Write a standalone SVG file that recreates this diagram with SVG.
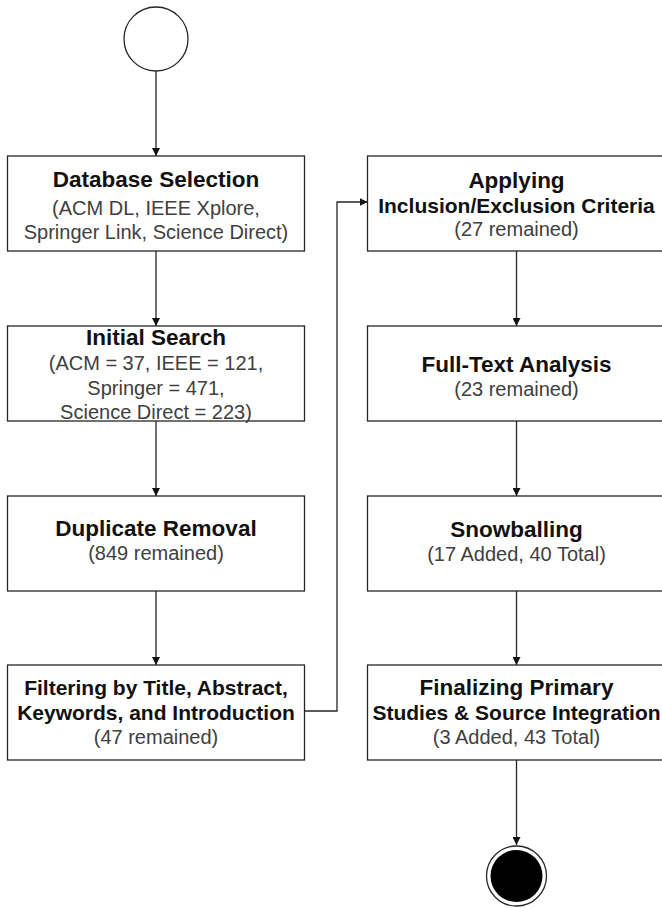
<svg xmlns="http://www.w3.org/2000/svg" width="662" height="909" viewBox="0 0 662 909">
<style>
.box{fill:#fff;stroke:#262626;stroke-width:1.3}
.t{font-family:"Liberation Sans",Arial,sans-serif;font-weight:bold;font-size:22.5px;fill:#111;text-anchor:middle}
.tl{font-size:21px}
.s{font-family:"Liberation Sans",Arial,sans-serif;font-size:20px;fill:#404040;text-anchor:middle}
.c{fill:none;stroke:#262626;stroke-width:1.3}
</style>
<defs>
<marker id="ah" viewBox="0 0 10 10" refX="10" refY="5" markerWidth="8" markerHeight="8" markerUnits="userSpaceOnUse" orient="auto">
<path d="M0,0 L10,5 L0,10 Z" fill="#111"/>
</marker>
</defs>
<rect width="662" height="909" fill="#fff"/>
<g id="connectors">
<path class="c" d="M156,71 V156" marker-end="url(#ah)"/>
<path class="c" d="M156,251 V326" marker-end="url(#ah)"/>
<path class="c" d="M156,421 V496" marker-end="url(#ah)"/>
<path class="c" d="M156,591 V665" marker-end="url(#ah)"/>
<path class="c" d="M304.5,711 H337 V202 H367.5" marker-end="url(#ah)"/>
<path class="c" d="M516.5,251 V326" marker-end="url(#ah)"/>
<path class="c" d="M516.5,421 V496" marker-end="url(#ah)"/>
<path class="c" d="M516.5,591 V665" marker-end="url(#ah)"/>
<path class="c" d="M516.5,760 V845" marker-end="url(#ah)"/>
</g>
<g id="start">
<circle cx="156" cy="39" r="32" fill="#fff" stroke="#262626" stroke-width="1.3"/>
</g>
<g id="database-selection">
<rect class="box" x="7.5" y="156" width="297" height="95"/>
<text class="t" x="156" y="187">Database Selection</text>
<text class="s" x="156" y="215">(ACM DL, IEEE Xplore,</text>
<text class="s" x="156" y="239">Springer Link, Science Direct)</text>
</g>
<g id="initial-search">
<rect class="box" x="7.5" y="326" width="297" height="95"/>
<text class="t" x="156" y="345">Initial Search</text>
<text class="s" x="156" y="370">(ACM = 37, IEEE = 121,</text>
<text class="s" x="156" y="395">Springer = 471,</text>
<text class="s" x="156" y="419">Science Direct = 223)</text>
</g>
<g id="duplicate-removal">
<rect class="box" x="7.5" y="496" width="297" height="95"/>
<text class="t" x="156" y="536">Duplicate Removal</text>
<text class="s" x="156" y="560">(849 remained)</text>
</g>
<g id="filtering">
<rect class="box" x="7.5" y="665" width="297" height="95"/>
<text class="t tl" x="156" y="695">Filtering by Title, Abstract,</text>
<text class="t tl" x="156" y="720">Keywords, and Introduction</text>
<text class="s" x="156" y="744">(47 remained)</text>
</g>
<g id="inclusion-exclusion">
<rect class="box" x="367.5" y="156" width="298" height="95"/>
<text class="t" x="516.5" y="188">Applying</text>
<text class="t tl" x="516.5" y="213">Inclusion/Exclusion Criteria</text>
<text class="s" x="516.5" y="236">(27 remained)</text>
</g>
<g id="full-text">
<rect class="box" x="367.5" y="326" width="298" height="95"/>
<text class="t" x="516.5" y="372">Full-Text Analysis</text>
<text class="s" x="516.5" y="396">(23 remained)</text>
</g>
<g id="snowballing">
<rect class="box" x="367.5" y="496" width="298" height="95"/>
<text class="t" x="516.5" y="537">Snowballing</text>
<text class="s" x="516.5" y="561">(17 Added, 40 Total)</text>
</g>
<g id="finalizing">
<rect class="box" x="367.5" y="665" width="298" height="95"/>
<text class="t" x="516.5" y="695">Finalizing Primary</text>
<text class="t tl" x="516.5" y="720">Studies &amp; Source Integration</text>
<text class="s" x="516.5" y="744">(3 Added, 43 Total)</text>
</g>
<g id="end">
<circle cx="516.5" cy="876" r="30" fill="#fff" stroke="#262626" stroke-width="1.3"/>
<circle cx="516.5" cy="876" r="26" fill="#000"/>
</g>
</svg>
